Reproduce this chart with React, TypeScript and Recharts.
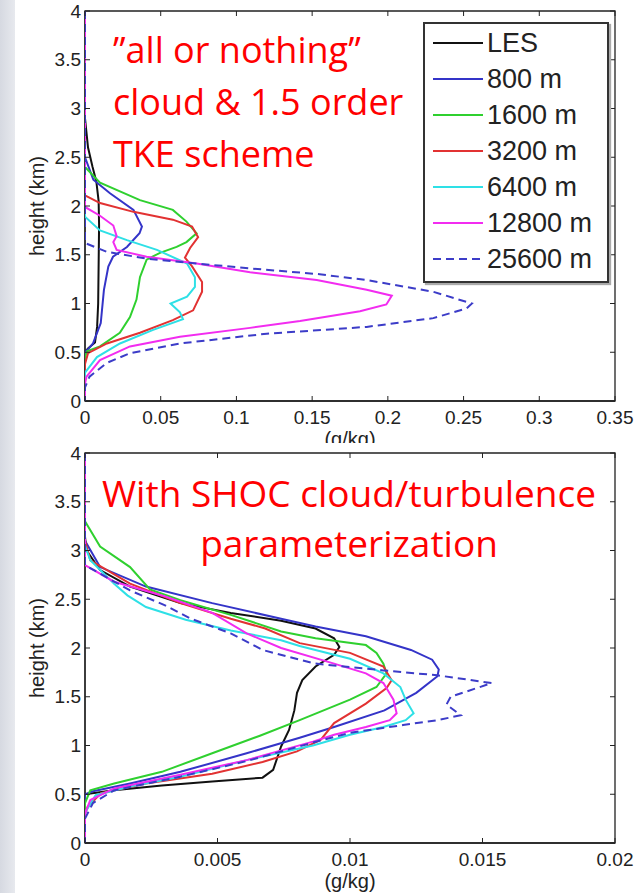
import React from "react";
import { ScatterChart, Scatter, XAxis, YAxis, ReferenceArea, Legend } from "recharts";

type pair = [number, number]; // [cloud water (g/kg), height (km)]

const SERIES = ["LES", "800 m", "1600 m", "3200 m", "6400 m", "12800 m", "25600 m"];
const COLORS = ["#111111", "#3434c8", "#2fd02f", "#e23232", "#2ee0e6", "#f22cf0", "#3c3cc8"];
const DASHES = ["", "", "", "", "", "", "8 5"];

// top panel: "all or nothing" cloud & 1.5 order TKE scheme
const topLES: pair[] = [[0, 4], [0, 2.9], [0.002, 2.6], [0.005, 2.4], [0.0075, 2.25], [0.009, 2.05], [0.0093, 1.8], [0.009, 1.4], [0.0087, 1.0], [0.008, 0.76], [0.0066, 0.6], [0.002, 0.54], [0, 0.5], [0, 0]];
const top800: pair[] = [[0, 4], [0, 2.5], [0.0055, 2.27], [0.0165, 2.13], [0.032, 1.96], [0.0376, 1.79], [0.036, 1.72], [0.0277, 1.58], [0.0185, 1.48], [0.0154, 1.38], [0.0125, 1.14], [0.0104, 0.8], [0.0053, 0.59], [0.002, 0.53], [0, 0.5], [0, 0]];
const top1600: pair[] = [[0, 4], [0, 2.4], [0.0099, 2.24], [0.0363, 2.06], [0.058, 1.96], [0.067, 1.84], [0.0737, 1.72], [0.067, 1.63], [0.0605, 1.58], [0.0495, 1.52], [0.0407, 1.45], [0.0363, 1.27], [0.034, 1.04], [0.0297, 0.86], [0.023, 0.7], [0.0099, 0.56], [0.0013, 0.51], [0, 0.45], [0, 0]];
const top3200: pair[] = [[0, 4], [0, 2.11], [0.0099, 2.03], [0.032, 1.94], [0.058, 1.86], [0.0707, 1.79], [0.0747, 1.68], [0.0694, 1.57], [0.066, 1.47], [0.0707, 1.38], [0.0773, 1.22], [0.0773, 1.12], [0.0714, 0.93], [0.058, 0.83], [0.0363, 0.7], [0.0145, 0.59], [0.002, 0.49], [0, 0.38], [0, 0]];
const top6400: pair[] = [[0, 4], [0, 1.89], [0.0099, 1.75], [0.0277, 1.65], [0.0475, 1.55], [0.0674, 1.41], [0.0726, 1.27], [0.0726, 1.17], [0.0674, 1.07], [0.0565, 1.0], [0.0627, 0.91], [0.0647, 0.84], [0.045, 0.73], [0.0231, 0.59], [0.0079, 0.45], [0, 0.29], [0, 0]];
const top12800: pair[] = [[0, 4], [0, 1.99], [0.0099, 1.9], [0.0187, 1.8], [0.0209, 1.69], [0.0187, 1.63], [0.0209, 1.55], [0.0407, 1.48], [0.0737, 1.41], [0.109, 1.32], [0.153, 1.24], [0.186, 1.14], [0.2026, 1.08], [0.199, 0.99], [0.1816, 0.92], [0.142, 0.82], [0.109, 0.75], [0.0627, 0.66], [0.0297, 0.56], [0.0099, 0.42], [0.001, 0.25], [0, 0.18], [0, 0]];
const top25600: pair[] = [[0, 4], [0, 1.62], [0.0143, 1.53], [0.0407, 1.46], [0.0737, 1.41], [0.109, 1.36], [0.155, 1.3], [0.186, 1.24], [0.23, 1.12], [0.2555, 1.0], [0.252, 0.95], [0.23, 0.85], [0.186, 0.76], [0.12, 0.69], [0.0627, 0.59], [0.0297, 0.49], [0.0143, 0.39], [0.003, 0.25], [0, 0.14], [0, 0]];

// bottom panel: SHOC cloud/turbulence parameterization
const botLES: pair[] = [[0, 4], [0, 3.14], [0.00006, 3.0], [0.00057, 2.8], [0.0017, 2.63], [0.0036, 2.46], [0.0055, 2.36], [0.0074, 2.28], [0.0087, 2.2], [0.0094, 2.1], [0.0096, 2.01], [0.0094, 1.93], [0.0087, 1.81], [0.0082, 1.67], [0.008, 1.54], [0.0079, 1.36], [0.0077, 1.16], [0.0074, 0.99], [0.0071, 0.75], [0.0067, 0.67], [0.0048, 0.63], [0.0029, 0.59], [0.0011, 0.54], [0, 0.5], [0, 0]];
const bot800: pair[] = [[0, 4], [0, 3.1], [0.00057, 2.83], [0.0023, 2.63], [0.0048, 2.46], [0.0074, 2.3], [0.0087, 2.22], [0.0106, 2.12], [0.0123, 1.98], [0.0131, 1.88], [0.01335, 1.78], [0.0133, 1.71], [0.0125, 1.54], [0.0113, 1.36], [0.0094, 1.19], [0.0081, 1.08], [0.0061, 0.92], [0.0036, 0.73], [0.0017, 0.61], [0.0003, 0.53], [0, 0.5], [0, 0]];
const bot1600: pair[] = [[0, 4], [0, 3.3], [0.00057, 3.04], [0.0017, 2.83], [0.00245, 2.6], [0.0036, 2.49], [0.0055, 2.34], [0.0074, 2.17], [0.0087, 2.1], [0.0106, 2.03], [0.011, 1.95], [0.01126, 1.84], [0.01138, 1.74], [0.011, 1.6], [0.01, 1.47], [0.0081, 1.26], [0.0066, 1.1], [0.0048, 0.92], [0.0029, 0.73], [0.0011, 0.61], [0.0002, 0.54], [0, 0.41], [0, 0]];
const bot3200: pair[] = [[0, 4], [0, 3.1], [0.0002, 2.9], [0.0017, 2.66], [0.0036, 2.46], [0.0055, 2.3], [0.0068, 2.2], [0.0081, 2.05], [0.01, 1.95], [0.01126, 1.81], [0.01157, 1.67], [0.01138, 1.59], [0.0106, 1.43], [0.0094, 1.23], [0.0089, 1.06], [0.008, 0.94], [0.0067, 0.83], [0.0048, 0.71], [0.0023, 0.61], [0.0006, 0.51], [0.0001, 0.37], [0, 0.3], [0, 0]];
const bot6400: pair[] = [[0, 4], [0, 3.05], [0.0002, 2.9], [0.0011, 2.66], [0.0016, 2.54], [0.0023, 2.42], [0.0038, 2.29], [0.0055, 2.18], [0.0074, 2.08], [0.0081, 2.02], [0.01, 1.89], [0.01126, 1.74], [0.0119, 1.6], [0.0121, 1.47], [0.0124, 1.33], [0.0121, 1.26], [0.01126, 1.19], [0.01, 1.11], [0.0086, 1.0], [0.0061, 0.85], [0.0036, 0.68], [0.0017, 0.58], [0.0004, 0.49], [0, 0.31], [0, 0]];
const bot12800: pair[] = [[0, 4], [0, 2.85], [0.0011, 2.68], [0.003, 2.53], [0.0048, 2.36], [0.0061, 2.15], [0.0074, 2.0], [0.0094, 1.84], [0.0106, 1.74], [0.01126, 1.64], [0.01164, 1.47], [0.01176, 1.33], [0.0115, 1.26], [0.0106, 1.19], [0.0094, 1.11], [0.0086, 1.04], [0.0061, 0.85], [0.0036, 0.7], [0.0011, 0.56], [0.0002, 0.44], [0, 0.3], [0, 0]];
const bot25600: pair[] = [[0, 4], [0, 2.85], [0.0017, 2.59], [0.003, 2.44], [0.004, 2.3], [0.0055, 2.15], [0.0067, 1.98], [0.0081, 1.88], [0.0087, 1.84], [0.01126, 1.77], [0.0133, 1.72], [0.01535, 1.64], [0.0138, 1.5], [0.01364, 1.42], [0.01418, 1.31], [0.0133, 1.26], [0.012, 1.21], [0.01, 1.13], [0.0086, 1.03], [0.0061, 0.84], [0.0036, 0.68], [0.0011, 0.54], [0.0003, 0.41], [0, 0.25], [0, 0]];

const TOP_X_TICKS = ["0", "0.05", "0.1", "0.15", "0.2", "0.25", "0.3", "0.35"];
const BOT_X_TICKS = ["0", "0.005", "0.01", "0.015", "0.02"];
const Y_TICKS = ["0", "0.5", "1", "1.5", "2", "2.5", "3", "3.5", "4"];

const TOP_TEXT = ["\u201Dall or nothing\u201D", "cloud & 1.5 order", "TKE scheme"];
const BOT_TEXT = ["With SHOC cloud/turbulence", "parameterization"];

const SANS = "'Liberation Sans', Arial, sans-serif";
const PLOT_W = 530;
const PLOT_H = 390;
const TICK = 5;

const toRows = (arr: pair[]) => arr.map(([x, h]) => ({ x, h }));
const labelOf = (labels: string[], v: number) =>
  labels.find((l) => Number(l) === v) ?? String(v);

const noDot = () => <g />;

const xTick = (labels: string[]) => (props: any) => {
  const { x, y, payload } = props;
  return (
    <g>
      <line x1={x} y1={y} x2={x} y2={y - TICK} stroke="#222" />
      <line x1={x} y1={y - PLOT_H} x2={x} y2={y - PLOT_H + TICK} stroke="#222" />
      <text x={x} y={y + 16} textAnchor="middle" dominantBaseline="central" fontFamily={SANS} fontSize={19} fill="#222">
        {labelOf(labels, payload.value)}
      </text>
    </g>
  );
};

const yTick = (props: any) => {
  const { x, y, payload } = props;
  return (
    <g>
      <line x1={x} y1={y} x2={x + TICK} y2={y} stroke="#222" />
      <line x1={x + PLOT_W} y1={y} x2={x + PLOT_W - TICK} y2={y} stroke="#222" />
      <text x={x - 4} y={y} textAnchor="end" dominantBaseline="central" fontFamily={SANS} fontSize={19} fill="#222">
        {labelOf(Y_TICKS, payload.value)}
      </text>
    </g>
  );
};

const yLabel = (props: any) => {
  const vb = props.viewBox || { y: 0, height: PLOT_H };
  const cx = 37;
  const cy = vb.y + vb.height / 2;
  return (
    <text x={cx} y={cy} transform={`rotate(-90 ${cx} ${cy})`} textAnchor="middle" dominantBaseline="central" fontFamily={SANS} fontSize={20} fill="#222">
      height (km)
    </text>
  );
};

const LegendBox = () => (
  <div
    style={{
      boxSizing: "border-box",
      width: "100%",
      border: "2px solid #333",
      boxShadow: "2px 2px 1px #aaa",
      background: "#fff",
      padding: "1px 4px 4px 8px",
      fontFamily: SANS,
      fontSize: 27,
      color: "#222",
    }}
  >
    {SERIES.map((name, i) => (
      <div key={name} style={{ display: "flex", alignItems: "center", height: 36 }}>
        <svg width={54} height={6}>
          <line x1={0} y1={3} x2={50} y2={3} stroke={COLORS[i]} strokeWidth={2} strokeDasharray={DASHES[i] || undefined} />
        </svg>
        <span style={{ lineHeight: "36px" }}>{name}</span>
      </div>
    ))}
  </div>
);

interface panel {
  data: pair[][];
  xTicks: string[];
  xMax: number;
  top: number;
  labelOffset: number;
  legend?: boolean;
}

const Panel: React.FC<panel> = (props) => {
  const { data, xTicks, xMax, top, labelOffset, legend } = props;
  return (
    <ScatterChart width={639} height={450} margin={{ top: top, right: 24, bottom: 0, left: 0 }}>
      <XAxis
        type="number"
        dataKey="x"
        domain={[0, xMax]}
        ticks={xTicks.map(Number)}
        allowDataOverflow
        height={450 - top - PLOT_H}
        tickSize={0}
        tickMargin={0}
        tickLine={false}
        axisLine={{ stroke: "#222", strokeWidth: 1.3 }}
        tick={xTick(xTicks)}
        interval={0}
        label={{ value: "(g/kg)", position: "insideBottom", offset: labelOffset, fontSize: 20, fontFamily: SANS, fill: "#222" }}
      />
      <YAxis
        type="number"
        dataKey="h"
        domain={[0, 4]}
        ticks={Y_TICKS.map(Number)}
        allowDataOverflow
        width={85}
        tickSize={0}
        tickMargin={0}
        tickLine={false}
        axisLine={{ stroke: "#222", strokeWidth: 1.3 }}
        tick={yTick}
        interval={0}
        label={yLabel}
      />
      <ReferenceArea x1={0} x2={xMax} y1={0} y2={4} fill="none" stroke="#222" strokeWidth={1.3} ifOverflow="visible" />
      {data.map((d, i) => (
        <Scatter
          key={SERIES[i]}
          name={SERIES[i]}
          data={toRows(d)}
          fill={COLORS[i]}
          line={{ stroke: COLORS[i], strokeWidth: 2, strokeDasharray: DASHES[i] || undefined, fill: "none" }}
          shape={noDot}
          isAnimationActive={false}
        />
      ))}
      {legend && (
        <Legend
          layout="vertical"
          align="center"
          verticalAlign="middle"
          content={<LegendBox />}
          wrapperStyle={{ top: 22, left: 423, width: 186 }}
        />
      )}
    </ScatterChart>
  );
};

export default function App() {
  const red = { fontFamily: "'Open Sans', sans-serif", fill: "#ff0000" };
  return (
    <div style={{ position: "absolute", left: 0, top: 0, width: 639, height: 893, background: "#fff", overflow: "hidden" }}>
      <div style={{ position: "absolute", left: 0, top: 0, width: 15, height: 893, background: "linear-gradient(to right, #d6d9e1, #e7e9ee)" }} />
      <div style={{ position: "absolute", left: 0, top: 0, width: 639, height: 443, overflow: "hidden" }}>
        <Panel
          data={[topLES, top800, top1600, top3200, top6400, top12800, top25600]}
          xTicks={TOP_X_TICKS}
          xMax={0.35}
          top={11}
          labelOffset={4}
          legend
        />
      </div>
      <div style={{ position: "absolute", left: 0, top: 443, width: 639, height: 450 }}>
        <Panel
          data={[botLES, bot800, bot1600, bot3200, bot6400, bot12800, bot25600]}
          xTicks={BOT_X_TICKS}
          xMax={0.02}
          top={10}
          labelOffset={5}
        />
      </div>
      <svg width={639} height={893} style={{ position: "absolute", left: 0, top: 0, pointerEvents: "none" }}>
        {TOP_TEXT.map((t, i) => (
          <text key={t} x={113} y={63 + i * 52} fontSize={36} {...red}>
            {t}
          </text>
        ))}
        {BOT_TEXT.map((t, i) => (
          <text key={t} x={349} y={507 + i * 50} fontSize={37} textAnchor="middle" {...red}>
            {t}
          </text>
        ))}
      </svg>
    </div>
  );
}
